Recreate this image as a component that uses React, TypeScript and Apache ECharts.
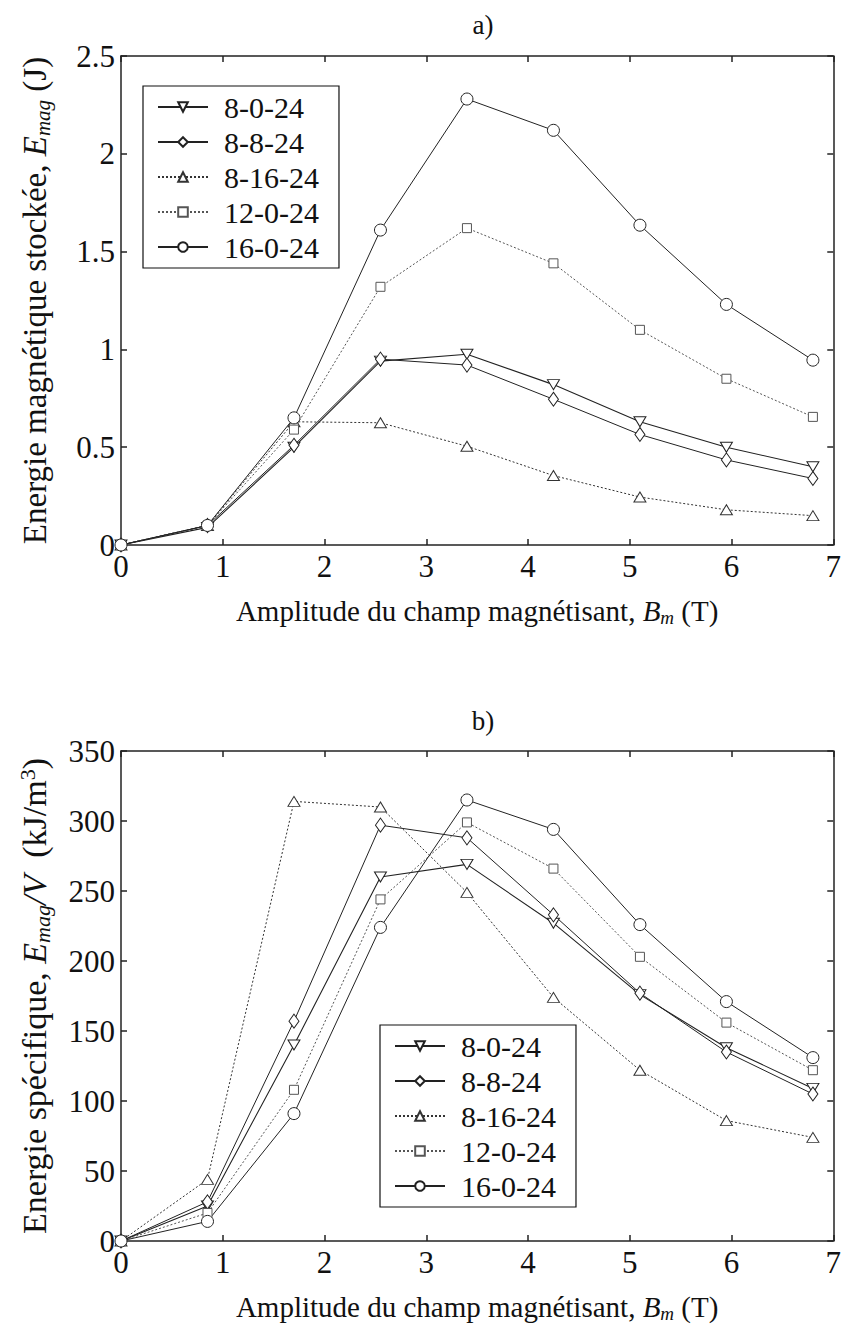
import React, { useEffect, useRef } from 'react';
import * as echarts from 'echarts';

const bValues = [0, 0.85, 1.7, 2.55, 3.4, 4.25, 5.1, 5.95, 6.8];
const seriesNames = ['8-0-24', '8-8-24', '8-16-24', '12-0-24', '16-0-24'];

// a) Stored magnetic energy (J)
const emag_8_0_24 = [0, 0.09, 0.5, 0.94, 0.975, 0.82, 0.63, 0.5, 0.4];
const emag_8_8_24 = [0, 0.1, 0.51, 0.95, 0.92, 0.745, 0.565, 0.435, 0.34];
const emag_8_16_24 = [0, 0.1, 0.63, 0.625, 0.505, 0.355, 0.245, 0.18, 0.15];
const emag_12_0_24 = [0, 0.1, 0.59, 1.32, 1.62, 1.44, 1.1, 0.85, 0.655];
const emag_16_0_24 = [0, 0.1, 0.65, 1.61, 2.28, 2.12, 1.635, 1.23, 0.945];

// b) Specific energy (kJ/m3)
const spec_8_0_24 = [0, 25, 140, 260, 269, 227, 176, 138, 109];
const spec_8_8_24 = [0, 28, 157, 297, 288, 233, 177, 135, 105];
const spec_8_16_24 = [0, 44, 314, 310, 249, 174, 122, 86, 74];
const spec_12_0_24 = [0, 20, 108, 244, 299, 266, 203, 156, 122];
const spec_16_0_24 = [0, 14, 91, 224, 315, 294, 226, 171, 131];

const topData = [emag_8_0_24, emag_8_8_24, emag_8_16_24, emag_12_0_24, emag_16_0_24];
const bottomData = [spec_8_0_24, spec_8_8_24, spec_8_16_24, spec_12_0_24, spec_16_0_24];

const FONT = "'Liberation Serif', 'Times New Roman', serif";
const INK = '#111';

const styles: any = {
  '8-0-24': { symbol: 'triangle', rotate: 180, size: [12, 10], type: 'solid', color: '#222', width: 1.1 },
  '8-8-24': { symbol: 'diamond', rotate: 0, size: [10, 14], type: 'solid', color: '#222', width: 1 },
  '8-16-24': { symbol: 'triangle', rotate: 0, size: [12, 10], type: [2, 2], color: '#333', width: 1 },
  '12-0-24': { symbol: 'rect', rotate: 0, size: 9, type: [2, 2], color: '#555', width: 1 },
  '16-0-24': { symbol: 'circle', rotate: 0, size: 12, type: 'solid', color: '#222', width: 1 },
};

function makeSeries(name: string, values: number[], axisIndex: number) {
  const s = styles[name];
  return {
    type: 'line',
    name,
    xAxisIndex: axisIndex,
    yAxisIndex: axisIndex,
    data: bValues.map((b, i) => [b, values[i]]),
    symbol: s.symbol,
    symbolRotate: s.rotate,
    symbolSize: s.size,
    showAllSymbol: true,
    lineStyle: { color: s.color, width: s.width, type: s.type },
    itemStyle: { color: '#fff', borderColor: s.color, borderWidth: 1 },
    emphasis: { disabled: true },
    z: 3,
  };
}

const axisLabelStyle = { fontSize: 31, color: INK, fontFamily: FONT, margin: 6 };
const lineStyleAxis = { color: '#222', width: 1.5 };

function makeRich(size: number) {
  const sub = Math.round(size * 0.65);
  return {
    n: { fontSize: size, fontFamily: FONT, color: INK, lineHeight: size + 3 },
    i: { fontSize: size, fontFamily: FONT, fontStyle: 'italic', color: INK, lineHeight: size + 3 },
    s: { fontSize: sub, fontFamily: FONT, fontStyle: 'italic', color: INK, lineHeight: sub, verticalAlign: 'bottom' },
    sup: { fontSize: sub, fontFamily: FONT, color: INK, lineHeight: sub, verticalAlign: 'top' },
  };
}

function xAxisMain(gridIndex: number) {
  return {
    type: 'value', gridIndex, min: 0, max: 7, interval: 1, position: 'bottom',
    axisLine: { show: true, onZero: false, lineStyle: lineStyleAxis },
    axisTick: { show: true, inside: true, length: 6, lineStyle: lineStyleAxis },
    axisLabel: axisLabelStyle,
    splitLine: { show: false },
    name: '{n|Amplitude du champ magnétisant, }{i|B}{s|m}{n| (T)}',
    nameLocation: 'middle',
    nameGap: 50,
    nameTextStyle: { rich: makeRich(29) },
  };
}
function xAxisTop(gridIndex: number) {
  return {
    type: 'value', gridIndex, min: 0, max: 7, interval: 1, position: 'top',
    axisLine: { show: true, onZero: false, lineStyle: lineStyleAxis },
    axisTick: { show: true, inside: true, length: 6, lineStyle: lineStyleAxis },
    axisLabel: { show: false },
    splitLine: { show: false },
  };
}
function yAxisRight(gridIndex: number, max: number, interval: number) {
  return {
    type: 'value', gridIndex, min: 0, max, interval, position: 'right',
    axisLine: { show: true, onZero: false, lineStyle: lineStyleAxis },
    axisTick: { show: true, inside: true, length: 6, lineStyle: lineStyleAxis },
    axisLabel: { show: false },
    splitLine: { show: false },
  };
}

function legendOpt(left: number, top: number) {
  return {
    data: seriesNames,
    orient: 'vertical',
    left, top,
    itemWidth: 50,
    itemHeight: 12,
    itemGap: 5,
    padding: [6, 20, 6, 14],
    borderColor: '#111',
    borderWidth: 1.2,
    backgroundColor: '#fff',
    selectedMode: false,
    textStyle: { fontSize: 30, fontFamily: FONT, color: INK, lineHeight: 30, padding: [0, 0, 0, 11] },
  };
}

export default function App() {
  const ref = useRef<HTMLDivElement>(null);
  useEffect(() => {
    document.body.style.margin = '0';
    if (!ref.current) return;
    const chart = echarts.init(ref.current, null, { renderer: 'svg' });
    const option: any = {
      animation: false,
      backgroundColor: '#fff',
      textStyle: { fontFamily: FONT },
      title: [
        { text: 'a)', left: 478, top: 6, textAlign: 'center', textStyle: { fontSize: 27, fontFamily: FONT, fontWeight: 'normal', color: INK } },
        { text: 'b)', left: 478, top: 702, textAlign: 'center', textStyle: { fontSize: 27, fontFamily: FONT, fontWeight: 'normal', color: INK } },
      ],
      grid: [
        { left: 121, width: 714, top: 56, height: 489 },
        { left: 121, width: 714, top: 751, height: 490 },
      ],
      xAxis: [xAxisMain(0), xAxisMain(1), xAxisTop(0), xAxisTop(1)],
      yAxis: [
        {
          type: 'value', gridIndex: 0, min: 0, max: 2.5, interval: 0.5, position: 'left',
          axisLine: { show: true, onZero: false, lineStyle: lineStyleAxis },
          axisTick: { show: true, inside: true, length: 6, lineStyle: lineStyleAxis },
          axisLabel: axisLabelStyle,
          splitLine: { show: false },
          name: '{n|Energie magnétique stockée, }{i|E}{s|mag}{n| (J)}',
          nameLocation: 'middle', nameRotate: 90, nameGap: 68,
          nameTextStyle: { rich: makeRich(33) },
        },
        {
          type: 'value', gridIndex: 1, min: 0, max: 350, interval: 50, position: 'left',
          axisLine: { show: true, onZero: false, lineStyle: lineStyleAxis },
          axisTick: { show: true, inside: true, length: 6, lineStyle: lineStyleAxis },
          axisLabel: axisLabelStyle,
          splitLine: { show: false },
          name: '{n|Energie spécifique, }{i|E}{s|mag}{i|/V}{n|  (kJ/m}{sup|3}{n|)}',
          nameLocation: 'middle', nameRotate: 90, nameGap: 68,
          nameTextStyle: { rich: makeRich(34) },
        },
        yAxisRight(0, 2.5, 0.5),
        yAxisRight(1, 350, 50),
      ],
      legend: [legendOpt(143, 86), legendOpt(380, 1025)],
      series: [
        ...seriesNames.map((n, k) => makeSeries(n, topData[k], 0)),
        ...seriesNames.map((n, k) => makeSeries(n, bottomData[k], 1)),
      ],
    };
    chart.setOption(option);
    return () => chart.dispose();
  }, []);
  return <div ref={ref} style={{ width: 844, height: 1332 }} />;
}
